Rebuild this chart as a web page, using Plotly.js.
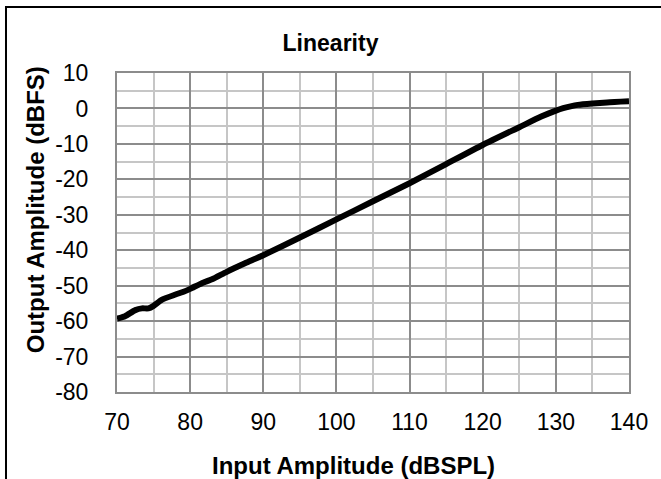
<!DOCTYPE html>
<html>
<head>
<meta charset="utf-8">
<script src="https://cdn.plot.ly/plotly-3.0.1.min.js"></script>
<style>html,body{margin:0;padding:0;background:#fff;}#chart{width:661px;height:479px;}</style>
</head>
<body>
<div id="chart"></div>
<script>
const inputDb = [70, 71.1, 72.5, 73.4, 74.3, 75, 76.1, 78, 79.1, 80, 81.6, 83, 85, 87.5, 90, 95, 100, 105, 110, 115, 120, 125, 128, 130, 131, 132, 133, 135, 137, 140];
const outputDb = [-59.3, -58.6, -56.9, -56.4, -56.4, -55.7, -54.0, -52.5, -51.7, -50.9, -49.3, -48.2, -46.1, -43.7, -41.4, -36.4, -31.3, -26.2, -21.1, -15.7, -10.3, -5.3, -2.3, -0.6, 0.1, 0.6, 1.0, 1.4, 1.7, 2.0];
const xTicks = [70, 80, 90, 100, 110, 120, 130, 140];
const yTicks = [10, 0, -10, -20, -30, -40, -50, -60, -70, -80];

const FONT = 'Liberation Sans, Arial, sans-serif';
const trace = {
  x: inputDb, y: outputDb, type: 'scatter', mode: 'lines',
  line: {color: '#000000', width: 6, shape: 'spline', smoothing: 0.6},
  hoverinfo: 'skip'
};
const axisCommon = {
  showline: true, mirror: true, linecolor: '#8c8c8c', linewidth: 2,
  showgrid: true, gridcolor: '#8c8c8c', gridwidth: 2,
  zeroline: false, ticks: 'outside', tickcolor: 'rgba(0,0,0,0)',
  tickfont: {family: FONT, size: 23, color: '#000'},
  minor: {dtick: 5, showgrid: true, gridcolor: '#c6c6c6', gridwidth: 2, ticks: ''}
};
const layout = {
  width: 661, height: 479,
  margin: {l: 117, r: 32, t: 73, b: 87},
  paper_bgcolor: '#ffffff', plot_bgcolor: '#ffffff',
  showlegend: false,
  title: {text: '<b>Linearity</b>', font: {family: FONT, size: 23, color: '#000'},
          x: 0.5, xref: 'container', y: 0.91, yref: 'container', yanchor: 'middle', xanchor: 'center'},
  xaxis: Object.assign({}, axisCommon, {range: [70, 140], tickmode: 'array', tickvals: xTicks, ticktext: xTicks.map(String), ticklen: 8}),
  yaxis: Object.assign({}, axisCommon, {range: [-80, 10], tickmode: 'array', tickvals: yTicks, ticktext: yTicks.map(String), ticklen: 22}),
  annotations: [
    {text: '<b>Input Amplitude (dBSPL)</b>', xref: 'paper', yref: 'paper', x: 0.461, y: -0.229,
     xanchor: 'center', yanchor: 'middle', showarrow: false, font: {family: FONT, size: 24, color: '#000'}},
    {text: '<b>Output Amplitude (dBFS)</b>', xref: 'paper', yref: 'paper', x: -0.16, y: 0.57,
     xanchor: 'center', yanchor: 'middle', textangle: -90, showarrow: false, font: {family: FONT, size: 24, color: '#000'}}
  ],
  shapes: [
    {type: 'rect', xref: 'paper', yref: 'paper', x0: -0.2168, x1: 1.6, y0: -0.6, y1: 1.2069,
     line: {color: '#000', width: 2}, fillcolor: 'rgba(0,0,0,0)', layer: 'below'}
  ]
};
Plotly.newPlot('chart', [trace], layout, {staticPlot: true, displayModeBar: false});
</script>
</body>
</html>
